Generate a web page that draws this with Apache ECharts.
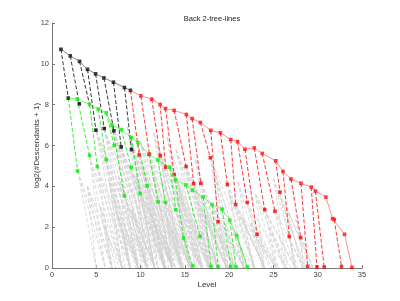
<!DOCTYPE html>
<html><head><meta charset="utf-8">
<script src="https://cdn.jsdelivr.net/npm/echarts@6/dist/echarts.min.js"></script>
<style>html,body{margin:0;padding:0;background:#fff}#c{width:400px;height:301px}</style>
</head><body><div id="c"></div>
<script>
// ---- data ----
const titleText = 'Back 2-tree-lines';
const xName = 'Level';
const yName = 'log2(#Descendants + 1)';

const blackBackX = [1.01, 2.06, 3.11, 4.01, 4.92, 5.86, 6.94, 8.18, 8.86];
const blackBackY = [10.71, 10.39, 10.12, 9.73, 9.51, 9.31, 9.10, 8.84, 8.70];

const redBackX = [10.03, 11.27, 12.21, 12.81, 13.79, 15.17, 15.82, 16.75, 17.93, 19.01, 20.18, 20.95, 21.79, 22.84, 23.74, 25.25, 26.08, 26.98, 28.11, 29.27, 29.74, 30.92, 31.68, 31.86, 33.03, 33.86];
const redBackY = [8.43, 8.27, 8.01, 7.81, 7.72, 7.52, 7.32, 7.13, 6.74, 6.62, 6.29, 6.19, 5.82, 5.88, 5.61, 5.25, 4.73, 4.36, 4.15, 3.96, 3.77, 3.47, 2.42, 2.37, 1.65, 0.03];

const greenBackX = [1.84, 2.85, 4.24, 5.22, 6.12, 6.76, 7.81, 8.94, 9.70, 10.94, 11.95, 13.30, 13.93, 15.11, 15.87, 17.06, 18.07, 19.20, 20.07, 20.86, 22.05];
const greenBackY = [8.32, 8.28, 8.01, 7.79, 7.60, 7.01, 6.78, 6.39, 6.15, 5.57, 5.29, 4.94, 4.33, 4.07, 3.82, 3.48, 3.11, 2.88, 2.34, 1.59, 0.05];

const blackDashes = [
  [[1.01,10.71],[1.84,8.32]], [[2.06,10.39],[3.08,8.04]], [[3.11,10.12],[4.24,8.01]],
  [[4.01,9.73],[4.96,6.75]], [[4.92,9.51],[5.90,6.83]], [[5.86,9.31],[6.99,6.72]],
  [[6.94,9.10],[7.81,5.93]], [[8.18,8.84],[8.97,5.80]]
];
const blackLowX = [1.84, 3.08, 4.96, 5.90, 6.99, 7.81, 8.97];
const blackLowY = [8.32, 8.04, 6.75, 6.83, 6.72, 5.93, 5.80];

const redDashes = [
  [[8.86,8.70],[9.84,5.54]], [[10.03,8.43],[11.00,5.57]], [[11.27,8.27],[12.21,5.50]],
  [[12.21,8.01],[12.83,4.94]], [[12.81,7.81],[13.79,4.58]], [[13.79,7.72],[15.14,4.97]],
  [[15.17,7.52],[15.99,4.14]], [[15.82,7.32],[16.80,4.15]], [[16.75,7.13],[17.88,5.40]],
  [[17.93,6.74],[18.75,2.27]], [[19.01,6.62],[19.80,4.09]], [[20.18,6.29],[20.74,3.11]],
  [[20.95,6.19],[22.05,3.21]], [[21.79,5.82],[23.15,1.65]], [[22.84,5.88],[24.01,2.86]],
  [[23.74,5.61],[25.17,2.78]], [[25.25,5.25],[25.74,3.71]], [[26.08,4.73],[26.79,1.54]],
  [[26.98,4.36],[28.07,1.49]], [[28.11,4.15],[28.86,0.08]], [[29.27,3.96],[29.91,0.05]],
  [[29.74,3.77],[30.73,0.05]], [[31.86,2.37],[32.69,0.07]]
];
const redLowX = [9.84, 11.00, 12.21, 12.83, 13.79, 15.14, 15.99, 16.80, 17.88, 18.75, 19.80, 20.74, 22.05, 23.15, 24.01, 25.17, 25.74, 26.79, 28.07, 28.86, 29.91, 30.73, 32.69];
const redLowY = [5.54, 5.57, 5.50, 4.94, 4.58, 4.97, 4.14, 4.15, 5.40, 2.27, 4.09, 3.11, 3.21, 1.65, 2.86, 2.78, 3.71, 1.54, 1.49, 0.08, 0.05, 0.05, 0.07];

const greenDashes = [
  [[1.84,8.32],[2.89,4.75]], [[2.85,8.28],[4.24,5.52]], [[4.24,8.01],[5.11,4.97]],
  [[5.22,7.79],[6.12,5.31]], [[6.12,7.60],[7.02,6.00]], [[6.76,7.01],[8.18,3.53]],
  [[7.81,6.78],[8.94,4.92]], [[8.94,6.39],[9.95,3.65]], [[9.70,6.15],[10.74,4.02]],
  [[10.94,5.57],[11.98,3.24]], [[11.95,5.29],[12.81,3.21]], [[13.30,4.94],[13.98,2.86]],
  [[13.93,4.33],[14.84,1.47],[15.90,0.10]], [[15.11,4.07],[16.72,1.55]],
  [[17.06,3.48],[17.96,0.08]], [[18.07,3.11],[18.75,0.07]], [[19.20,2.88],[20.18,0.08]],
  [[20.07,2.34],[20.78,0.05]], [[20.86,1.59],[22.05,0.05]]
];
const greenLowX = [2.89, 4.24, 5.11, 6.12, 7.02, 8.18, 8.94, 9.95, 10.74, 11.98, 12.81, 13.98, 14.84, 15.90, 16.72, 17.96, 18.75, 20.18, 20.78];
const greenLowY = [4.75, 5.52, 4.97, 5.31, 6.00, 3.53, 4.92, 3.65, 4.02, 3.24, 3.21, 2.86, 1.47, 0.10, 1.55, 0.08, 0.07, 0.08, 0.05];

// gray background tree lines: hub point -> leaf levels on the x axis
const grayHubX = [2.9, 4.2, 5.1, 6.1, 5.0, 5.9, 7.0, 7.8, 9.0, 8.2, 8.9, 10.0, 10.7, 9.8, 11.0, 12.2, 12.0, 12.8, 14.0, 13.8, 15.1, 16.0, 16.8, 17.9, 19.8, 20.7, 22.0, 24.0, 25.2, 25.7, 14.8, 16.7, 18.7, 23.1, 26.8, 28.0, 6.8, 8.9, 10.9, 13.3, 15.9, 18.1,
  7.5, 9.0, 10.5, 11.5, 13.0, 6.5, 7.5, 9.5, 11.5, 12.5, 14.5, 17.5, 19.5, 21.5, 10.0, 12.0, 14.0, 4.0, 16.5, 23.0, 20.0,
  5.5, 6.0, 7.0, 8.0, 9.5, 10.2, 11.0, 12.5, 13.5, 14.2, 15.5, 16.2, 17.0, 18.5, 19.0, 20.5, 21.0, 22.5, 24.5, 25.0, 26.5, 27.5, 8.5, 11.5, 13.0];
const grayHubY = [4.75, 5.5, 5.0, 5.3, 6.7, 6.8, 6.7, 5.9, 5.8, 3.5, 4.9, 3.65, 4.0, 5.5, 5.6, 5.5, 3.2, 3.2, 2.9, 4.6, 5.0, 4.1, 4.15, 5.4, 4.1, 3.1, 3.2, 2.9, 2.8, 3.7, 1.5, 1.55, 2.3, 1.65, 1.5, 1.5, 7.0, 6.4, 5.6, 4.9, 3.8, 3.1,
  2.5, 2.8, 2.6, 2.2, 2.4, 4.2, 4.5, 4.5, 4.4, 4.2, 3.5, 2.6, 2.2, 2.4, 6.2, 6.0, 5.8, 4.0, 3.2, 3.6, 3.6,
  3.0, 2.0, 3.4, 1.8, 1.6, 5.0, 3.0, 1.6, 1.8, 4.2, 2.4, 5.3, 1.8, 4.5, 1.6, 1.8, 4.2, 2.2, 2.0, 4.4, 3.0, 2.4, 6.9, 6.6, 6.4];
const grayHubEnds = [
  [5.0, 6.0, 6.8], [6.0, 6.8, 7.9, 8.8], [6.8, 7.9, 8.8, 9.7], [7.9, 8.8, 9.7, 10.7],
  [7.9, 8.8, 9.7, 10.7, 11.6], [8.8, 9.7, 10.7, 11.6, 12.7], [9.7, 10.7, 11.6, 12.7, 13.6],
  [10.7, 11.6, 12.7, 13.6], [11.6, 12.7, 13.6, 14.7, 15.7], [9.7, 10.7, 11.6],
  [10.7, 11.6, 12.7, 13.6], [11.6, 12.7, 13.6], [12.7, 13.6, 14.7], [12.7, 13.6, 14.7, 15.7],
  [13.6, 14.7, 15.7, 16.9], [14.7, 15.7, 16.9, 17.8], [13.6, 14.7, 15.7], [14.7, 15.7, 16.9],
  [15.7, 16.9, 17.8], [15.7, 16.9, 17.8, 18.7], [16.9, 17.8, 18.7, 19.7, 20.6],
  [17.8, 18.7, 19.7, 20.6], [18.7, 19.7, 20.6, 21.7], [19.7, 20.6, 21.7, 22.9],
  [21.7, 22.9, 24.0], [22.9, 24.0, 25.3], [24.0, 25.3, 26.4], [25.3, 26.4, 27.5],
  [26.4, 27.5, 28.4], [27.5, 28.4, 29.5], [15.7, 16.9], [17.8, 18.7], [19.7, 20.6, 21.7],
  [24.0, 25.3], [27.5, 28.4], [28.4, 29.5], [9.7, 10.7, 11.6], [11.6, 12.7, 13.6],
  [13.6, 14.7], [15.7, 16.9, 17.8], [17.8, 18.7, 19.7], [19.7, 20.6, 21.7],
  [8.8, 9.7, 10.7], [9.7, 10.7, 11.6, 12.7], [11.6, 12.7, 13.6], [12.7, 13.6, 14.7],
  [13.6, 14.7, 15.7], [7.9, 8.8, 9.7, 10.7], [8.8, 9.7, 10.7, 11.6], [10.7, 11.6, 12.7, 13.6, 14.7],
  [12.7, 13.6, 14.7, 15.7], [13.6, 14.7, 15.7, 16.9], [15.7, 16.9, 17.8, 18.7], [18.7, 19.7, 20.6],
  [20.6, 21.7, 22.9], [22.9, 24.0, 25.3], [12.7, 13.6, 14.7, 15.7], [14.7, 15.7, 16.9],
  [16.9, 17.8, 18.7, 19.7], [5.0, 6.0, 6.8, 7.9], [17.8, 18.7, 19.7, 20.6], [24.0, 25.3, 26.4, 27.5],
  [21.7, 22.9, 24.0],
  [6.6, 7.2, 8.0], [6.8, 7.6], [8.2, 9.0, 9.9], [8.8, 9.5, 10.2], [10.2, 10.9, 11.4],
  [11.9, 12.9, 13.9, 14.9], [12.0, 12.9, 13.8], [13.2, 14.0, 14.5], [14.5, 15.5],
  [15.4, 16.2, 17.1, 18.0], [16.2, 17.0, 17.6], [18.0, 19.0, 19.9], [18.0, 18.9],
  [19.9, 20.8, 21.9], [19.9, 20.8], [21.5, 22.2], [22.7, 23.8, 24.8], [23.8, 24.6, 25.6],
  [25.5, 26.2, 27.0], [26.6, 27.7, 28.6], [27.3, 28.2, 29.2], [28.6, 29.4],
  [10.9, 11.9, 12.9], [13.9, 14.9, 15.9], [15.5, 16.5, 17.6]
];

// ---- build ----
const zip = (xs, ys) => xs.map((x, i) => [x, ys[i]]);
const grayData = [];
grayHubX.forEach((hx, i) => {
  grayHubEnds[i].forEach(e => grayData.push({coords: [[hx, grayHubY[i]], [e, 0]]}));
});
const toLines = arr => arr.map(p => ({coords: p}));
const dash = [4, 2];

function dashSeries(data, color, width) {
  return {type: 'lines', coordinateSystem: 'cartesian2d', polyline: true, silent: true,
    data: data, lineStyle: {color: color, width: width, type: dash, opacity: 1}};
}
function backSeries(data, color, width) {
  return {type: 'line', data: data, symbol: 'none', silent: true,
    lineStyle: {color: color, width: width}};
}
function dots(data, color) {
  return {type: 'scatter', data: data, symbol: 'rect', symbolSize: 3.6, silent: true,
    itemStyle: {color: color}};
}

const redLine = [[blackBackX[blackBackX.length - 1], blackBackY[blackBackY.length - 1]]].concat(zip(redBackX, redBackY));
const axisFont = 'Liberation Sans';

const chart = echarts.init(document.getElementById('c'), null, {renderer: 'canvas'});
chart.setOption({
  animation: false,
  backgroundColor: '#fff',
  title: {text: titleText, left: 207, textAlign: 'center', top: 10,
    textStyle: {fontSize: 7.5, fontWeight: 'normal', color: '#222', fontFamily: axisFont}},
  grid: {left: 52, right: 38, top: 23, bottom: 33},
  xAxis: {type: 'value', min: 0, max: 35, interval: 5,
    name: xName, nameLocation: 'middle', nameGap: 13, nameMoveOverlap: false,
    nameTextStyle: {fontSize: 8, color: '#333', fontFamily: axisFont},
    axisLine: {show: true, onZero: false, lineStyle: {color: '#777', width: 1}},
    axisTick: {show: true, inside: true, length: 3, lineStyle: {color: '#777'}},
    axisLabel: {fontSize: 7.5, color: '#444', margin: 3, fontFamily: axisFont},
    splitLine: {show: false}},
  yAxis: {type: 'value', min: 0, max: 12, interval: 2,
    name: yName, nameLocation: 'middle', nameGap: 11, nameRotate: 90, nameMoveOverlap: false,
    nameTextStyle: {fontSize: 8, color: '#333', fontFamily: axisFont},
    axisLine: {show: true, onZero: false, lineStyle: {color: '#777', width: 1}},
    axisTick: {show: true, inside: true, length: 3, lineStyle: {color: '#777'}},
    axisLabel: {fontSize: 7.5, color: '#444', margin: 3, fontFamily: axisFont},
    splitLine: {show: false}},
  series: [
    dashSeries(grayData, '#d2d2d2', 0.8),
    dashSeries(toLines(greenDashes), '#22ee22', 0.9),
    dashSeries(toLines(redDashes), '#ff2020', 0.9),
    dashSeries(toLines(blackDashes), '#222', 0.9),
    backSeries(zip(greenBackX, greenBackY), '#44ee44', 0.7),
    backSeries(redLine, '#ff6060', 0.7),
    backSeries(zip(blackBackX, blackBackY), '#555', 0.7),
    dots(zip(greenBackX.slice(1), greenBackY.slice(1)), '#00ee00'),
    dots(zip(greenLowX, greenLowY), '#00ee00'),
    dots(zip(redBackX, redBackY), '#ff0000'),
    dots(zip(redLowX, redLowY), '#ff0000'),
    dots(zip(blackBackX, blackBackY), '#000'),
    dots(zip(blackLowX, blackLowY), '#000')
  ]
});
</script></body></html>
